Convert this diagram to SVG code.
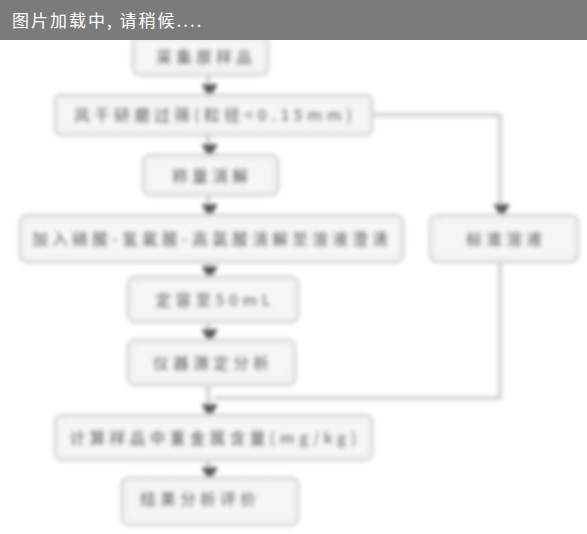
<svg xmlns="http://www.w3.org/2000/svg" width="587" height="534" viewBox="0 0 587 534">
  <style>
    .box { fill: #f6f6f6; stroke: #d4d4d4; stroke-width: 3; }
    .inner { fill: none; stroke: #e0e0e0; stroke-width: 1.5; stroke-dasharray: 3 3; }
    .lbl { font-family: "Noto Sans CJK SC", "Noto Sans", sans-serif; font-size: 16px; font-weight: bold; fill: #7a7a7a; text-anchor: middle; letter-spacing: 4px; }
    .wire { fill: none; stroke: #d0d0d0; stroke-width: 4; }
    .head { font-family: "Noto Sans CJK SC", "Noto Sans", sans-serif; font-size: 17px; fill: #ffffff; letter-spacing: 2px; }
  </style>
  <defs>
    <filter id="soft" x="-5%" y="-5%" width="110%" height="110%">
      <feGaussianBlur stdDeviation="2.3"/>
    </filter>
    <marker id="tip" viewBox="0 0 10 10" refX="5" refY="6" markerWidth="4" markerHeight="4" orient="auto-start-reverse">
      <path d="M0,0 L10,5 L0,10 z" fill="#5a5a5a"/>
    </marker>
  </defs>

  <rect width="587" height="534" fill="#ffffff"/>

  <g filter="url(#soft)">
    <g id="connectors">
      <path class="wire" d="M208,76 V92" marker-end="url(#tip)"/>
      <path class="wire" d="M208,136 V152" marker-end="url(#tip)"/>
      <path class="wire" d="M208,196 V212" marker-end="url(#tip)"/>
      <path class="wire" d="M208,263 V274" marker-end="url(#tip)"/>
      <path class="wire" d="M208,323 V337" marker-end="url(#tip)"/>
      <path class="wire" d="M208,386 V412" marker-end="url(#tip)"/>
      <path class="wire" d="M208,461 V475" marker-end="url(#tip)"/>
      <path class="wire" d="M372,115 H500 V212" marker-end="url(#tip)"/>
      <path class="wire" d="M500,263 V398 H214"/>
    </g>

    <g id="n1">
      <rect class="box" x="133" y="36" width="135" height="39" rx="7"/>
      <rect class="inner" x="138" y="41" width="125" height="29" rx="5"/>
      <text class="lbl" x="206" y="63">采集原样品</text>
    </g>
    <g id="n2">
      <rect class="box" x="55" y="95" width="317" height="40" rx="6"/>
      <rect class="inner" x="60" y="100" width="307" height="30" rx="4"/>
      <text class="lbl" x="215" y="121">风干研磨过筛(粒径&lt;0.15mm)</text>
    </g>
    <g id="n3">
      <rect class="box" x="143" y="155" width="135" height="40" rx="7"/>
      <rect class="inner" x="148" y="160" width="125" height="30" rx="5"/>
      <text class="lbl" x="212" y="182">称量消解</text>
    </g>
    <g id="n4">
      <rect class="box" x="20" y="215" width="383" height="47" rx="8"/>
      <rect class="inner" x="25" y="220" width="373" height="37" rx="6"/>
      <text class="lbl" x="212" y="245">加入硝酸-氢氟酸-高氯酸消解至溶液澄清</text>
    </g>
    <g id="nR">
      <rect class="box" x="430" y="215" width="148" height="47" rx="8"/>
      <rect class="inner" x="435" y="220" width="138" height="37" rx="6"/>
      <text class="lbl" x="506" y="245">标准溶液</text>
    </g>
    <g id="n5">
      <rect class="box" x="128" y="277" width="170" height="45" rx="7"/>
      <rect class="inner" x="133" y="282" width="160" height="35" rx="5"/>
      <text class="lbl" x="215" y="306">定容至50mL</text>
    </g>
    <g id="n6">
      <rect class="box" x="128" y="340" width="167" height="45" rx="7"/>
      <rect class="inner" x="133" y="345" width="157" height="35" rx="5"/>
      <text class="lbl" x="213" y="369">仪器测定分析</text>
    </g>
    <g id="n7">
      <rect class="box" x="55" y="415" width="317" height="45" rx="7"/>
      <rect class="inner" x="60" y="420" width="307" height="35" rx="5"/>
      <text class="lbl" x="215" y="444">计算样品中重金属含量(mg/kg)</text>
    </g>
    <g id="n8">
      <rect class="box" x="122" y="478" width="176" height="47" rx="7"/>
      <rect class="inner" x="127" y="483" width="166" height="37" rx="5"/>
      <text class="lbl" x="200" y="505">结果分析评价</text>
    </g>
  </g>

  <g id="banner">
    <rect x="0" y="0" width="587" height="40" fill="#7b7b7b"/>
    <text class="head" x="12" y="27">图片加载中, 请稍候....</text>
  </g>
</svg>
